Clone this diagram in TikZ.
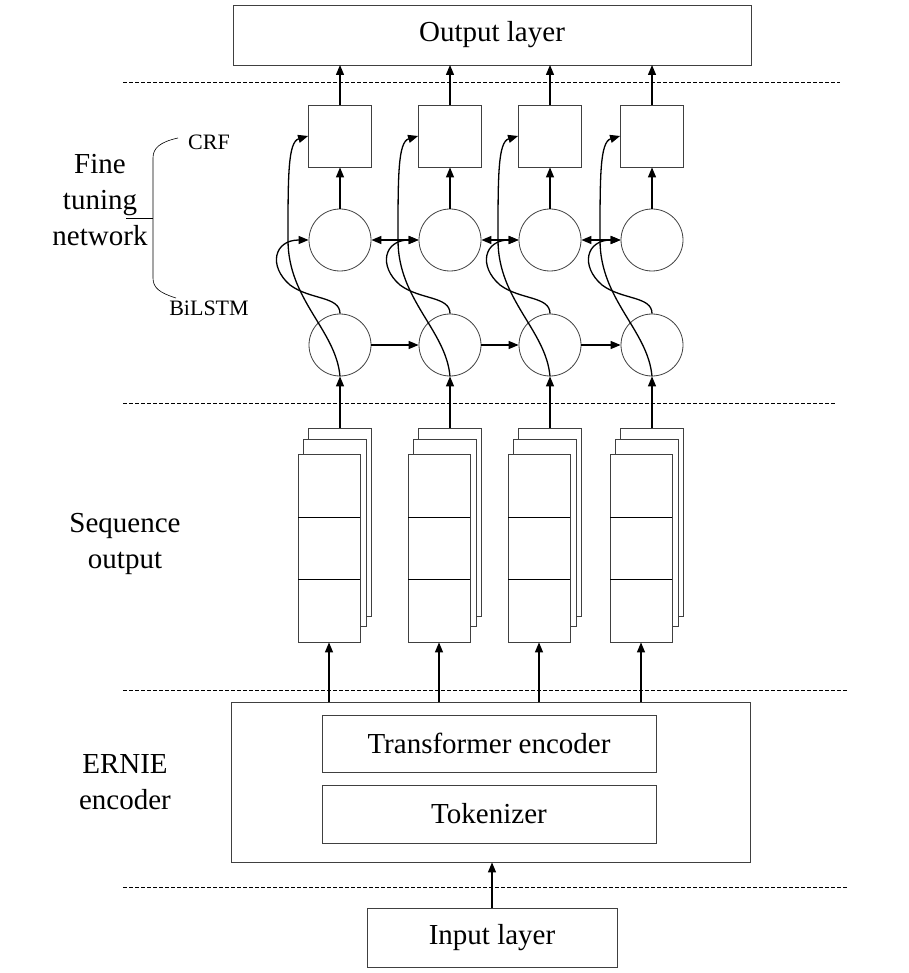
\documentclass[tikz,border=0pt]{standalone}
\usepackage{fontspec}
\setmainfont{Liberation Serif}
\usetikzlibrary{arrows.meta}
\begin{document}
\begin{tikzpicture}[x=1pt,y=-1pt,
  box/.style={draw=black!75,line width=0.8pt,fill=white,inner sep=0pt},
  arr/.style={-{Triangle[length=10pt,width=8pt]},line width=1.3pt},
  sepline/.style={line width=1pt,dash pattern=on 4pt off 2pt},
  lbl/.style={font=\fontsize{29}{36}\selectfont,align=center},
  small/.style={font=\fontsize{22}{24}\selectfont}]
\useasboundingbox (0,0) rectangle (908,973);
% dashed separators
\draw[sepline] (123,83) -- (840,83);
\draw[sepline] (123,403) -- (835,403);
\draw[sepline] (123,690) -- (848,690);
\draw[sepline] (123,887) -- (848,887);
% top and bottom boxes
\node[box,minimum width=518pt,minimum height=60pt,lbl] (out) at (492,35) {Output layer};
\node[box,minimum width=519pt,minimum height=160pt] (ernie) at (490.5,782) {};
\node[box,minimum width=334pt,minimum height=57pt,lbl] (trans) at (489,743.5) {Transformer encoder};
\node[box,minimum width=334pt,minimum height=58pt,lbl] (tok) at (489,814) {Tokenizer};
\node[box,minimum width=250pt,minimum height=59pt,lbl] (inp) at (492,937.5) {Input layer};
\draw[arr] (inp.north) -- (inp.north |- ernie.south);
% labels
\node[lbl] (ft) at (100,200) {Fine\\tuning\\network};
\node[lbl] (so) at (125,544) {Sequence\\output};
\node[lbl] (er) at (125,782) {ERNIE\\encoder};
\node[small] (crf) at (209,142) {CRF};
\node[small] (bil) at (209,308) {BiLSTM};
\draw[line width=0.6pt] (178,138) .. controls (160,142) and (153,148) .. (153,158) -- (153,278) .. controls (153,288) and (160,293) .. (176,298);
\draw[line width=0.6pt] (126,218) -- (153,218);
% columns
\foreach \c/\i in {340/1,450/2,550/3,652/4}{
  \pgfmathsetmacro{\sx}{\c-42}
  \node[box,minimum width=63pt,minimum height=188pt] (s\i c) at (\sx+41.5,522) {};
  \node[box,minimum width=63pt,minimum height=187pt] (s\i b) at (\sx+36.5,532.5) {};
  \node[box,minimum width=62pt,minimum height=188pt] (s\i) at (\sx+31,548) {};
  \draw[line width=0.8pt] (\sx,517) -- (\sx+62,517) (\sx,579) -- (\sx+62,579);
  \draw[arr] (\sx+31,702) -- (s\i.south);
  \node[box,circle,minimum size=62pt] (l\i) at (\c,345) {};
  \node[box,circle,minimum size=62pt] (u\i) at (\c,240) {};
  \node[box,minimum width=63pt,minimum height=62pt] (crf\i) at (\c,136) {};
  \draw[arr] (\c,428) -- (l\i.south);
  \draw[arr] (u\i.north) -- (crf\i.south);
  \draw[arr] (crf\i.north) -- (\c,65);
  \draw[arr] (l\i.south) .. controls (\c-4,330) and (\c-52,300) .. (\c-52,240) .. controls (\c-52,175) and (\c-52,142) .. (crf\i.west);
  \draw[arr] (l\i.north) .. controls (\c,296) and (\c-30,300) .. (\c-50,285) .. controls (\c-72,266) and (\c-66,240) .. (u\i.west);
}
\foreach \a/\b in {1/2,2/3,3/4}{
  \draw[arr] (l\a.east) -- (l\b.west);
  \draw[arr,{Triangle[length=10pt,width=8pt]}-{Triangle[length=10pt,width=8pt]}] (u\a.east) -- (u\b.west);
}
\end{tikzpicture}
\end{document}
